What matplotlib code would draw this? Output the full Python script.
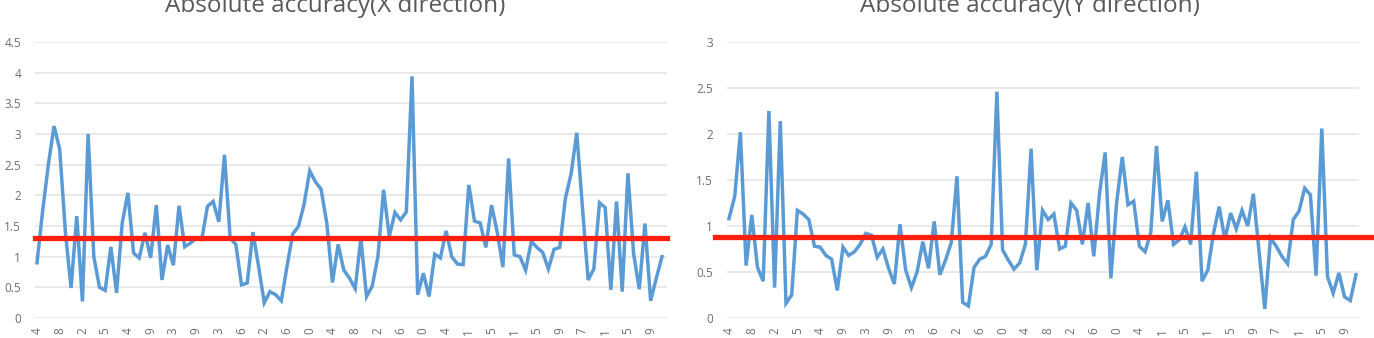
import matplotlib
matplotlib.use("Agg")
import matplotlib.pyplot as plt
import numpy as np

plt.rcParams['font.family'] = ['Open Sans', 'DejaVu Sans']

# ---- data ----
x_dir_error = [
    0.90, 1.75, 2.50, 3.13, 2.75, 1.40, 0.49, 1.66, 0.27, 3.00,
    1.00, 0.50, 0.45, 1.16, 0.41, 1.55, 2.04, 1.06, 0.98, 1.39,
    0.98, 1.84, 0.62, 1.19, 0.86, 1.83, 1.16, 1.22, 1.30, 1.28,
    1.82, 1.90, 1.57, 2.66, 1.30, 1.20, 0.54, 0.57, 1.40, 0.84,
    0.25, 0.43, 0.38, 0.28, 0.84, 1.37, 1.49, 1.85, 2.40, 2.22,
    2.10, 1.55, 0.58, 1.20, 0.78, 0.65, 0.48, 1.30, 0.35, 0.52,
    1.00, 2.09, 1.33, 1.72, 1.60, 1.73, 3.94, 0.38, 0.73, 0.35,
    1.04, 0.98, 1.42, 1.00, 0.88, 0.87, 2.17, 1.58, 1.55, 1.15,
    1.84, 1.40, 0.83, 2.60, 1.03, 1.00, 0.78, 1.25, 1.15, 1.07,
    0.80, 1.12, 1.15, 1.95, 2.35, 3.02, 1.80, 0.62, 0.80, 1.88,
    1.80, 0.46, 1.90, 0.43, 2.36, 1.05, 0.47, 1.54, 0.28, 0.65,
    1.00,
]

y_dir_error = [
    1.08, 1.32, 2.02, 0.57, 1.12, 0.55, 0.40, 2.25, 0.33, 2.14,
    0.16, 0.25, 1.17, 1.13, 1.07, 0.78, 0.77, 0.68, 0.64, 0.30,
    0.77, 0.68, 0.72, 0.80, 0.92, 0.90, 0.66, 0.75, 0.54, 0.37,
    1.02, 0.52, 0.33, 0.50, 0.83, 0.54, 1.05, 0.47, 0.63, 0.82,
    1.54, 0.17, 0.13, 0.55, 0.64, 0.67, 0.80, 2.46, 0.74, 0.63,
    0.53, 0.60, 0.80, 1.84, 0.52, 1.17, 1.07, 1.13, 0.75, 0.78,
    1.25, 1.17, 0.80, 1.25, 0.67, 1.35, 1.80, 0.43, 1.25, 1.75,
    1.23, 1.27, 0.78, 0.72, 0.93, 1.87, 1.05, 1.28, 0.80, 0.85,
    0.99, 0.80, 1.59, 0.40, 0.52, 0.92, 1.21, 0.85, 1.14, 0.97,
    1.17, 1.00, 1.35, 0.72, 0.10, 0.87, 0.78, 0.67, 0.59, 1.07,
    1.16, 1.41, 1.34, 0.46, 2.06, 0.45, 0.27, 0.49, 0.23, 0.19,
    0.47,
]

threshold_x = 1.30
threshold_y = 0.88

# only the last character of each category label is visible in the reference
x_tick_labels = [
    "4", "8", "2", "5", "4", "9", "3", "9", "3", "6", "2", "6", "0", "4",
    "8", "2", "6", "0", "4", "1", "5", "1", "5", "9", "7", "1", "5", "9",
]
tick_step = 4

titles = ["Absolute accuracy(X direction)", "Absolute accuracy(Y direction)"]
y_ticks_x = [0, 0.5, 1, 1.5, 2, 2.5, 3, 3.5, 4, 4.5]
y_ticks_y = [0, 0.5, 1, 1.5, 2, 2.5, 3]

# ---- figure ----
W, H = 1374, 338
fig = plt.figure(figsize=(W / 100, H / 100), dpi=100)

LINE = "#5B9BD5"
RED = "#FF2010"
GRID = "#E5E5E5"
TXT = "#6E6E6E"


def px_rect(x0, x1, ytop, ybot):
    return [x0 / W, (H - ybot) / H, (x1 - x0) / W, (ybot - ytop) / H]


def fmt(v):
    return ("%g" % v)


panels = [
    dict(rect=px_rect(35, 667, 42, 318), data=x_dir_error, thr=threshold_x,
         yticks=y_ticks_x, xlim=(-0.35, 110.88), title_x=335,
         red=(0.0, 1.0)),
    dict(rect=px_rect(727, 1359, 42, 318), data=y_dir_error, thr=threshold_y,
         yticks=y_ticks_y, xlim=(-0.35, 110.53), title_x=1030,
         red=(-12 / 632, (1374 - 727) / 632)),
]

for p, title in zip(panels, titles):
    ax = fig.add_axes(p["rect"])
    vals = np.array(p["data"])
    idx = np.arange(len(vals))
    ax.plot(idx, vals, color=LINE, lw=2.5, solid_joinstyle="miter", zorder=3)
    ax.axhline(p["thr"], xmin=p["red"][0], xmax=p["red"][1], color=RED,
               lw=3.8, zorder=4, clip_on=False)
    ax.set_xlim(*p["xlim"])
    ax.set_ylim(p["yticks"][0], p["yticks"][-1])
    ax.set_yticks(p["yticks"])
    ax.set_yticklabels([fmt(v) for v in p["yticks"]])
    ax.set_xticks(idx[::tick_step][:len(x_tick_labels)])
    ax.set_xticklabels(x_tick_labels, rotation=90)
    for s in ax.spines.values():
        s.set_visible(False)
    ax.grid(axis="y", color=GRID, lw=1.2, zorder=0)
    ax.set_axisbelow(True)
    ax.tick_params(axis="y", length=0, pad=10, labelsize=8.5, labelcolor=TXT)
    ax.tick_params(axis="x", length=0, pad=7, labelsize=8.5, labelcolor=TXT)
    fig.text(p["title_x"] / W, (H - 12) / H, title, ha="center",
             va="baseline", fontsize=17.5, color="#595959")

fig.savefig("out.png", dpi=100)
